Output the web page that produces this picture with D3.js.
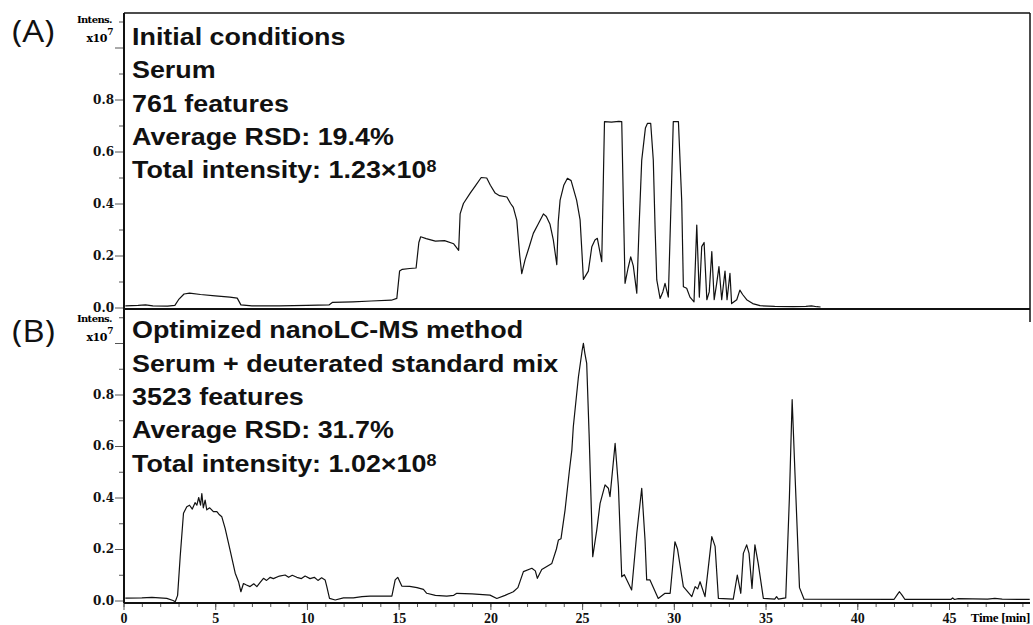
<!DOCTYPE html>
<html>
<head>
<meta charset="utf-8">
<script src="https://cdn.jsdelivr.net/npm/d3@7"></script>
<style>
  body { margin: 0; background: #fff; }
  svg { display: block; }
</style>
</head>
<body>
<div id="chart"></div>
<script>
// Chromatogram traces: [time (min), intensity (x10^7)]
const traceA = [
  [0.1,0.006],[0.8,0.008],[1.2,0.01],[1.6,0.006],[2.4,0.005],[2.8,0.008],[3.0,0.03],[3.3,0.052],
  [3.6,0.055],[4.2,0.05],[5.0,0.045],[5.8,0.04],[6.2,0.036],[6.4,0.01],[7.0,0.006],[8.5,0.006],
  [10.0,0.008],[11.2,0.01],[11.4,0.02],[12.5,0.022],[13.5,0.025],[14.6,0.028],[14.9,0.035],
  [15.05,0.14],[15.2,0.147],[15.6,0.15],[15.95,0.152],[16.1,0.25],[16.2,0.272],[16.5,0.265],
  [17.0,0.255],[17.5,0.257],[18.0,0.245],[18.27,0.22],[18.35,0.36],[18.53,0.40],[18.9,0.44],
  [19.2,0.47],[19.5,0.50],[19.8,0.498],[20.0,0.47],[20.26,0.44],[20.5,0.43],[20.9,0.425],
  [21.1,0.40],[21.25,0.385],[21.44,0.335],[21.6,0.2],[21.71,0.13],[21.89,0.183],[22.1,0.23],
  [22.34,0.285],[22.6,0.32],[22.89,0.36],[23.05,0.35],[23.25,0.32],[23.43,0.26],[23.55,0.2],
  [23.62,0.165],[23.7,0.33],[23.8,0.413],[24.0,0.47],[24.2,0.497],[24.4,0.488],[24.7,0.413],
  [24.89,0.337],[25.0,0.2],[25.07,0.108],[25.34,0.14],[25.53,0.234],[25.7,0.26],[25.83,0.266],
  [25.98,0.21],[26.07,0.176],[26.16,0.5],[26.22,0.715],[26.6,0.713],[27.0,0.716],[27.16,0.715],
  [27.25,0.4],[27.34,0.093],[27.5,0.15],[27.65,0.195],[27.79,0.16],[27.98,0.055],[28.1,0.3],
  [28.25,0.567],[28.45,0.69],[28.56,0.708],[28.74,0.708],[28.88,0.567],[28.98,0.3],[29.07,0.106],
  [29.25,0.035],[29.4,0.06],[29.52,0.093],[29.7,0.04],[29.85,0.41],[29.97,0.715],[30.25,0.715],
  [30.43,0.41],[30.52,0.08],[30.7,0.074],[30.88,0.04],[31.1,0.022],[31.25,0.317],[31.39,0.04],
  [31.52,0.234],[31.65,0.25],[31.8,0.03],[31.93,0.06],[32.07,0.215],[32.2,0.03],[32.33,0.09],
  [32.46,0.157],[32.61,0.03],[32.79,0.14],[32.9,0.03],[33.06,0.131],[33.15,0.015],[33.43,0.03],
  [33.6,0.067],[33.75,0.05],[33.97,0.03],[34.3,0.015],[34.7,0.007],[35.5,0.004],[36.5,0.003],
  [37.2,0.004],[37.5,0.006],[37.8,0.003],[38.0,0.002]
];

const traceB = [
  [0.1,0.009],[1.0,0.01],[1.55,0.012],[2.36,0.008],[2.7,0.0],[2.82,-0.005],[2.95,0.02],[3.09,0.17],
  [3.27,0.339],[3.45,0.364],[3.6,0.37],[3.75,0.355],[3.9,0.38],[4.0,0.37],[4.1,0.40],[4.2,0.37],
  [4.27,0.415],[4.35,0.36],[4.45,0.39],[4.54,0.352],[4.7,0.36],[4.9,0.345],[5.09,0.345],[5.2,0.335],
  [5.36,0.325],[5.54,0.28],[5.81,0.196],[6.09,0.106],[6.27,0.073],[6.4,0.034],[6.54,0.066],
  [6.7,0.06],[6.9,0.054],[7.1,0.065],[7.27,0.054],[7.45,0.07],[7.63,0.086],[7.8,0.078],[8.0,0.09],
  [8.17,0.085],[8.5,0.095],[8.81,0.099],[9.0,0.09],[9.2,0.098],[9.45,0.09],[9.7,0.085],[9.9,0.095],
  [10.17,0.085],[10.4,0.09],[10.6,0.078],[10.8,0.088],[10.99,0.08],[11.08,0.055],[11.23,0.008],
  [11.54,0.002],[11.99,0.01],[12.53,0.01],[13.0,0.015],[13.44,0.017],[14.0,0.017],[14.63,0.017],
  [14.81,0.08],[14.95,0.09],[15.17,0.056],[15.6,0.055],[16.0,0.05],[16.35,0.043],[16.53,0.028],
  [17.0,0.02],[17.62,0.017],[18.0,0.02],[18.17,0.028],[19.0,0.026],[19.98,0.021],[20.35,0.008],
  [20.8,0.02],[21.25,0.034],[21.5,0.05],[21.8,0.112],[22.26,0.125],[22.45,0.115],[22.56,0.086],
  [22.8,0.12],[23.35,0.144],[23.6,0.2],[23.71,0.235],[23.85,0.24],[24.07,0.351],[24.3,0.5],
  [24.44,0.584],[24.52,0.675],[24.8,0.869],[25.0,0.97],[25.07,0.999],[25.15,0.96],[25.25,0.921],
  [25.38,0.649],[25.58,0.17],[25.8,0.274],[25.98,0.377],[26.25,0.449],[26.43,0.436],[26.52,0.403],
  [26.8,0.61],[26.98,0.442],[27.16,0.092],[27.3,0.1],[27.7,0.041],[27.98,0.261],[28.25,0.436],
  [28.43,0.235],[28.52,0.08],[28.7,0.08],[29.15,0.008],[29.52,0.028],[29.8,0.028],[30.06,0.228],
  [30.2,0.2],[30.52,0.054],[30.98,0.015],[31.16,0.054],[31.3,0.045],[31.43,0.073],[31.7,0.015],
  [32.07,0.248],[32.25,0.21],[32.43,0.008],[33.24,0.005],[33.46,0.099],[33.65,0.028],[33.79,0.183],
  [33.97,0.216],[34.1,0.183],[34.26,0.047],[34.42,0.216],[34.6,0.144],[34.88,0.008],[35.5,0.005],
  [35.6,0.015],[35.7,0.005],[36.1,0.01],[36.3,0.4],[36.45,0.78],[36.6,0.5],[36.85,0.05],[37.1,0.005],
  [42.0,0.004],[42.2,0.025],[42.3,0.034],[42.45,0.02],[42.6,0.004],[45.1,0.004],[45.2,0.01],
  [45.3,0.004],[45.5,0.007],[47.1,0.005],[47.5,0.008],[47.9,0.005],[49.4,0.004]
];

const linesA = ["Initial conditions", "Serum", "761 features", "Average RSD: 19.4%", "Total intensity: 1.23\u00d710"];
const linesB = ["Optimized nanoLC-MS method", "Serum + deuterated standard mix", "3523 features", "Average RSD: 31.7%", "Total intensity: 1.02\u00d710"];

const yMajor = [0, 0.2, 0.4, 0.6, 0.8, 1.0];
const yMinor = [0.1, 0.3, 0.5, 0.7, 0.9, 1.1];
const xMajor = [0, 5, 10, 15, 20, 25, 30, 35, 40, 45];
const xMinor = d3.range(0, 50, 1);

const W = 1033, H = 625;
const left = 124, right = 1030;

const svg = d3.select("#chart").append("svg")
  .attr("width", W)
  .attr("height", H)
  .style("background", "#fff");

const x = d3.scaleLinear().domain([0, 45]).range([123.5, 949]);

const panels = [
  { tag: "(A)", trace: traceA, lines: linesA, y: d3.scaleLinear().domain([0, 1]).range([307.5, 47.5]),
    top: 13, unitTop: 23, tagY: 41.5, textY: 45 },
  { tag: "(B)", trace: traceB, lines: linesB, y: d3.scaleLinear().domain([0, 1]).range([600.5, 343]),
    top: 310, unitTop: 322, tagY: 341.5, textY: 338.3 }
];

const line = d3.line();

panels.forEach(p => {
  const g = svg.append("g");

  // trace
  g.append("path")
    .datum(p.trace)
    .attr("d", line.x(d => x(d[0])).y(d => p.y(d[1])))
    .attr("fill", "none")
    .attr("stroke", "#111")
    .attr("stroke-width", 1.2)
    .attr("stroke-linejoin", "round");

  // y axis major and minor ticks
  const yMaj = g.append("g")
    .attr("transform", `translate(${left},0)`)
    .call(d3.axisLeft(p.y).tickValues(yMajor).tickSize(9).tickPadding(1)
      .tickFormat(d => d <= 0.8 ? d.toFixed(1) : ""));
  const yMin = g.append("g")
    .attr("transform", `translate(${left},0)`)
    .call(d3.axisLeft(p.y).tickValues(yMinor).tickSize(5).tickFormat(""));
  [yMaj, yMin].forEach(a => {
    a.select(".domain").remove();
    a.selectAll("line").attr("stroke", "#555");
  });
  yMaj.selectAll("text")
    .attr("font-family", "'DejaVu Serif', serif")
    .attr("font-weight", "bold")
    .attr("font-size", 12)
    .attr("fill", "#111");

  // "Intens. x10^7"
  g.append("text")
    .attr("x", 112).attr("y", p.unitTop)
    .attr("text-anchor", "end")
    .attr("font-family", "'DejaVu Serif', serif")
    .attr("font-weight", "bold")
    .attr("font-size", 10)
    .attr("letter-spacing", -0.6)
    .text("Intens.");
  const unit = g.append("text")
    .attr("x", 113).attr("y", p.unitTop + 19)
    .attr("text-anchor", "end")
    .attr("font-family", "'DejaVu Serif', serif")
    .attr("font-weight", "bold")
    .attr("font-size", 11)
    .attr("letter-spacing", -0.4);
  unit.append("tspan").text("x10");
  unit.append("tspan").attr("dy", -7).attr("font-size", 9).text("7");

  // panel tag
  g.append("text")
    .attr("transform", `translate(12,${p.tagY}) scale(1.12,1)`)
    .attr("font-family", "'Open Sans', sans-serif")
    .attr("font-size", 31)
    .attr("fill", "#111")
    .text(p.tag);

  // annotation block
  p.lines.forEach((s, i) => {
    const t = g.append("text")
      .attr("transform", `translate(132,${p.textY + i * 33.3}) scale(1.12,1)`)
      .attr("font-family", "'Liberation Sans', Arial, sans-serif")
      .attr("font-weight", "bold")
      .attr("font-size", 24)
      .attr("fill", "#111");
    t.append("tspan").text(s);
    if (i === p.lines.length - 1) {
      t.append("tspan").attr("dy", -6).attr("font-size", 16).text("8");
    }
  });
});

// frames
const frame = svg.append("g").attr("stroke", "#111").attr("fill", "none");
frame.append("line").attr("x1", left).attr("x2", left).attr("y1", 13).attr("y2", 603).attr("stroke-width", 2);
frame.append("line").attr("x1", left).attr("x2", right).attr("y1", 13).attr("y2", 13).attr("stroke-width", 1.5);
frame.append("line").attr("x1", right).attr("x2", right).attr("y1", 13).attr("y2", 322).attr("stroke-width", 1.5);
frame.append("line").attr("x1", left).attr("x2", right).attr("y1", 309).attr("y2", 309).attr("stroke-width", 2);

// x axis
const xMaj = svg.append("g")
  .attr("transform", "translate(0,603)")
  .call(d3.axisBottom(x).tickValues(xMajor).tickSize(7).tickPadding(3).tickSizeOuter(0));
const xMin = svg.append("g")
  .attr("transform", "translate(0,603)")
  .call(d3.axisBottom(x).tickValues(xMinor).tickSize(4).tickFormat(""));
[xMaj, xMin].forEach(a => {
  a.select(".domain").remove();
  a.selectAll("line").attr("stroke", "#555");
});
xMaj.selectAll("text")
  .attr("font-family", "'Liberation Serif', serif")
  .attr("font-weight", "bold")
  .attr("font-size", 14)
  .attr("fill", "#111");
svg.append("line")
  .attr("x1", left).attr("x2", right).attr("y1", 603).attr("y2", 603)
  .attr("stroke", "#111").attr("stroke-width", 2);
svg.append("text")
  .attr("x", right).attr("y", 622)
  .attr("text-anchor", "end")
  .attr("font-family", "'Liberation Serif', serif")
  .attr("font-weight", "bold")
  .attr("font-size", 13)
  .attr("letter-spacing", -0.3)
  .text("Time [min]");
</script>
</body>
</html>
